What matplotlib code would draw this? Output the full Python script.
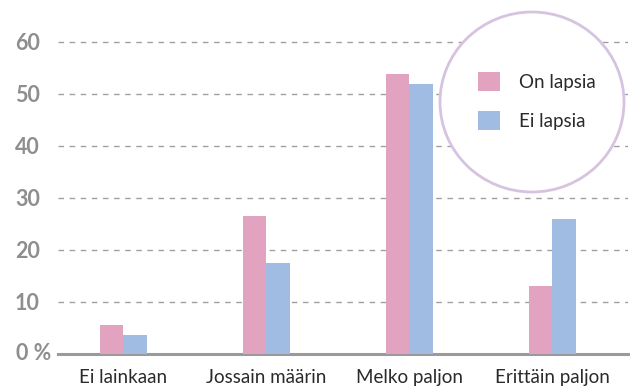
import matplotlib.pyplot as plt
from matplotlib.patches import Ellipse
import numpy as np

categories = ["Ei lainkaan", "Jossain määrin", "Melko paljon", "Erittäin paljon"]
on_lapsia = [5.6, 26.5, 53.8, 13.1]
ei_lapsia = [3.7, 17.5, 52.0, 26.0]
yticks = [0, 10, 20, 30, 40, 50, 60]
ytick_labels = ["0 %", "10", "20", "30", "40", "50", "60"]

pink = "#E2A3C0"
blue = "#A0BCE2"
grey = "#8E8E90"

plt.rcParams["font.family"] = ["Lato", "DejaVu Sans"]

fig = plt.figure(figsize=(6.3, 3.89), dpi=100)
ax = fig.add_axes([0.092, 0.09, 0.905, 0.869])

x = np.arange(len(categories))
w = 0.164
ax.bar(x - w / 2, on_lapsia, w, color=pink, label="On lapsia", zorder=3)
ax.bar(x + w / 2, ei_lapsia, w, color=blue, label="Ei lapsia", zorder=3)

ax.set_xlim(-0.455, 3.53)
ax.set_ylim(0, 65)
ax.set_yticks(yticks[1:])
ax.set_yticklabels(ytick_labels[1:])
ax.yaxis.grid(True, linestyle=(0, (4, 4)), color="#A0A0A0", linewidth=1, zorder=0)
ax.set_xticks(x)
ax.set_xticklabels(categories, fontsize=13.5, color="#2a2a2a")
ax.tick_params(axis="x", length=0, pad=10.5)
ax.tick_params(axis="y", length=0, pad=13, labelsize=15.5, labelcolor=grey)
for lab in ax.get_yticklabels():
    lab.set_fontweight("bold")
# "0 %" label sits closer to the axis than the other ticks
ax.annotate(ytick_labels[0], xy=(0, yticks[0]), xycoords=ax.get_yaxis_transform(),
            xytext=(-4.5, 0), textcoords="offset points", ha="right", va="center",
            fontsize=15.5, fontweight="bold", color=grey)

for side in ["top", "right", "left"]:
    ax.spines[side].set_visible(False)
ax.spines["bottom"].set_color("#9A9A9A")
ax.spines["bottom"].set_linewidth(2.2)

circle = Ellipse((532 / 630, 1 - 102 / 389), 184 / 630, 180 / 389, transform=fig.transFigure,
                 facecolor="white", edgecolor="#D6C3E0", linewidth=2, zorder=5)
fig.patches.append(circle)

leg = fig.legend(loc="center", bbox_to_anchor=(537 / 630, 1 - 101 / 389), frameon=False,
                 fontsize=13.5, handlelength=1.15, handleheight=1.15, handletextpad=1.0,
                 labelspacing=1.1, labelcolor="#2a2a2a")
leg.set_zorder(6)

fig.savefig("out.png", dpi=100)
